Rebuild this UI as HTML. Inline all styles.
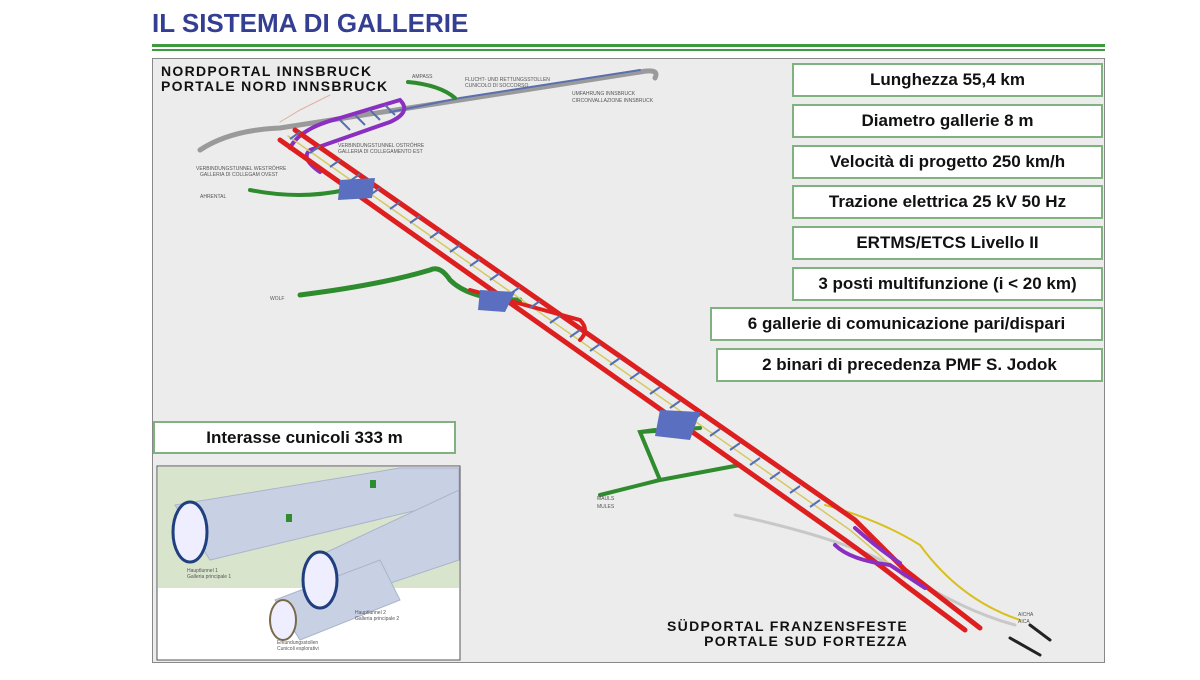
<!DOCTYPE html>
<html><head><meta charset="utf-8"><style>
body{margin:0;width:1200px;height:680px;background:#fff;position:relative;overflow:hidden;font-family:"Liberation Sans",sans-serif}
.t{position:absolute;left:152px;top:8px;font-size:26px;font-weight:bold;color:#343e92;letter-spacing:0px}
.box{position:absolute;background:#fff;border:2px solid #7fb27f;box-sizing:border-box;height:34px;font-weight:bold;font-size:17px;color:#111;text-align:center;line-height:30px;white-space:nowrap}
.lbl{position:absolute;font-weight:900;font-size:14px;color:#111;line-height:15px;letter-spacing:1.3px}
.s{position:absolute;font-size:5px;color:#555;line-height:6px}
</style></head><body>
<div class="t">IL SISTEMA DI GALLERIE</div>
<div style="position:absolute;left:152px;top:44px;width:953px;height:3px;background:#3d9a3d"></div>
<div style="position:absolute;left:152px;top:49px;width:953px;height:2px;background:#3d9a3d"></div>
<div style="position:absolute;left:152px;top:58px;width:951px;height:603px;border:1px solid #888;background:#ececec"></div>
<svg style="position:absolute;left:0;top:0" width="1200" height="680">
<g fill="none" stroke-linecap="round">
<path d="M200,150 Q230,130 280,128 L640,72 Q660,68 655,78" stroke="#9a9a9a" stroke-width="5"/>
<path d="M390,112 L460,98 L640,70" stroke="#5a6fb0" stroke-width="2"/>
<path d="M280,122 L300,110 L330,95" stroke="#e0b0a0" stroke-width="1"/>
<path d="M408,82 Q440,85 455,98" stroke="#2e8b2e" stroke-width="4"/>
<path d="M290,148 Q300,128 340,118 L400,100 Q412,112 390,122 L310,150 Q300,158 320,172" stroke="#8a2fc0" stroke-width="4"/>
<path d="M250,190 Q300,200 345,190" stroke="#2e8b2e" stroke-width="4"/>
<path d="M300,295 Q380,285 430,270 Q440,265 450,280 Q470,300 520,300" stroke="#2e8b2e" stroke-width="5"/>
<path d="M655,430 L640,432 L660,480 L600,495 M640,432 L700,428 M660,480 L740,465" stroke="#2e8b2e" stroke-width="4"/>
<path d="M735,515 Q850,540 900,570 Q960,610 1015,625" stroke="#c8c8c8" stroke-width="3"/>
<path d="M825,505 Q880,520 920,545 Q960,600 1020,620" stroke="#d8c020" stroke-width="2"/>
<path d="M288,136 L850,530 Q880,555 905,578" stroke="#d8c860" stroke-width="1.5"/>
<path d="M280,140 L845,540 Q880,565 905,585 L965,630" stroke="#dd1f1f" stroke-width="5"/>
<path d="M295,130 L855,520 Q880,545 905,570 L980,628" stroke="#dd1f1f" stroke-width="5"/>
<path d="M835,545 Q850,560 890,565 L925,588" stroke="#8a2fc0" stroke-width="4"/>
<path d="M855,528 Q880,550 900,563" stroke="#8a2fc0" stroke-width="4"/>
<path d="M470,290 L580,320 Q590,330 580,340" stroke="#dd1f1f" stroke-width="4"/>
<path d="M1010,638 L1040,655 M1030,625 L1050,640" stroke="#222" stroke-width="3"/>
</g>
<g stroke="#5570b0" stroke-width="2">
<path d="M290,139 L300,132 M310,153 L320,146 M330,167 L340,160 M350,181 L360,174 M370,195 L380,188 M390,209 L400,202 M410,223 L420,216 M430,238 L440,231 M450,252 L460,245 M470,266 L480,259 M490,280 L500,273 M510,294 L520,287 M530,308 L540,301 M550,323 L560,316 M570,337 L580,330 M590,351 L600,344 M610,365 L620,358 M630,379 L640,372 M650,394 L660,387 M670,408 L680,401 M690,422 L700,415 M710,436 L720,429 M730,450 L740,443 M750,465 L760,458 M770,479 L780,472 M790,493 L800,486 M810,507 L820,500"/>
<path d="M340,120 L350,130 M355,115 L365,125 M370,110 L380,120 M385,105 L395,115"/>
</g>
<g fill="#5a6fc0"><polygon points="340,180 375,178 372,198 338,200"/><polygon points="480,290 515,292 505,312 478,310"/><polygon points="660,410 700,412 690,440 655,436"/></g>
<g font-family="Liberation Sans" font-size="5" fill="#555">
<text x="200" y="198">AHRENTAL</text><text x="270" y="300">WOLF</text><text x="597" y="500">MAULS</text><text x="597" y="508">MULES</text>
<text x="1018" y="616">AICHA</text><text x="1018" y="623">AICA</text>
<text x="412" y="78">AMPASS</text><text x="465" y="81">FLUCHT- UND RETTUNGSSTOLLEN</text><text x="465" y="87">CUNICOLO DI SOCCORSO</text>
<text x="572" y="95">UMFAHRUNG INNSBRUCK</text><text x="572" y="102">CIRCONVALLAZIONE INNSBRUCK</text>
<text x="338" y="147">VERBINDUNGSTUNNEL OSTRÖHRE</text><text x="338" y="153">GALLERIA DI COLLEGAMENTO EST</text>
<text x="196" y="170">VERBINDUNGSTUNNEL WESTRÖHRE</text><text x="200" y="176">GALLERIA DI COLLEGAM OVEST</text>
</g>
<rect x="157" y="466" width="303" height="194" fill="#fff" stroke="#555"/>
<polygon points="158,467 459,467 459,588 158,588" fill="#d9e4cc"/>
<g fill="#c8d0e4" stroke="#aab4cc">
<polygon points="175,505 400,468 459,468 459,500 210,560"/>
<polygon points="310,560 459,490 459,560 340,600"/>
<polygon points="275,600 380,560 400,600 300,640"/>
</g>
<ellipse cx="190" cy="532" rx="17" ry="30" fill="#eef" stroke="#1f3f7f" stroke-width="3"/>
<ellipse cx="320" cy="580" rx="17" ry="28" fill="#eef" stroke="#1f3f7f" stroke-width="3"/>
<ellipse cx="283" cy="620" rx="13" ry="20" fill="#eef" stroke="#7a6a4a" stroke-width="2"/>
<rect x="286" y="514" width="6" height="8" fill="#2e8b2e"/><rect x="370" y="480" width="6" height="8" fill="#2e8b2e"/>
</svg>
<div class="lbl" style="left:161px;top:64px">NORDPORTAL INNSBRUCK<br>PORTALE NORD INNSBRUCK</div>
<div class="lbl" style="left:618px;top:619px;text-align:right;width:290px">SÜDPORTAL FRANZENSFESTE<br>PORTALE SUD FORTEZZA</div>
<div class="box" style="left:792px;top:63px;width:311px">Lunghezza 55,4 km</div>
<div class="box" style="left:792px;top:104px;width:311px">Diametro gallerie 8 m</div>
<div class="box" style="left:792px;top:145px;width:311px">Velocità di progetto 250 km/h</div>
<div class="box" style="left:792px;top:185px;width:311px">Trazione elettrica 25 kV 50 Hz</div>
<div class="box" style="left:792px;top:226px;width:311px">ERTMS/ETCS Livello II</div>
<div class="box" style="left:792px;top:267px;width:311px">3 posti multifunzione (i &lt; 20 km)</div>
<div class="box" style="left:710px;top:307px;width:393px">6 gallerie di comunicazione pari/dispari</div>
<div class="box" style="left:716px;top:348px;width:387px">2 binari di precedenza PMF S. Jodok</div>
<div class="box" style="left:153px;top:421px;width:303px;height:33px">Interasse cunicoli 333 m</div>
<div class="s" style="left:187px;top:568px">Hauptlunnel 1<br>Galleria principale 1</div>
<div class="s" style="left:355px;top:610px">Hauptlunnel 2<br>Galleria principale 2</div>
<div class="s" style="left:277px;top:640px">Erkundungsstollen<br>Cunicoli esplorativi</div>
</body></html>
